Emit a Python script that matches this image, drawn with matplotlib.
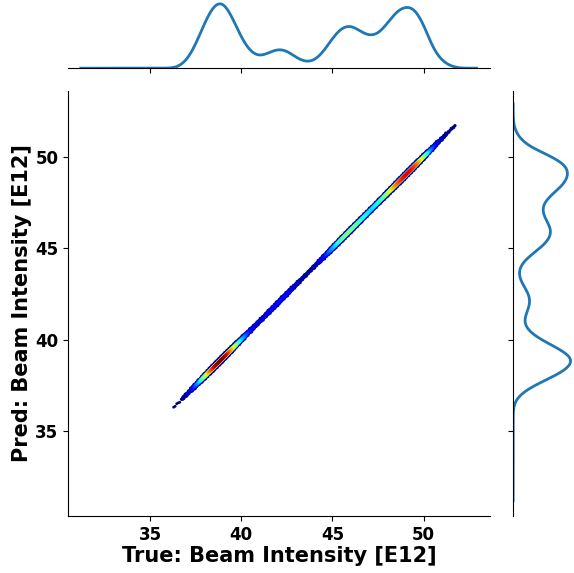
import matplotlib
matplotlib.use("Agg")
import matplotlib.pyplot as plt
import numpy as np
from statistics import NormalDist

# beam intensity histogram (bin centres, counts)
bin_centers = np.arange(36.5, 51.75, 0.5)
bin_counts = [2, 20, 65, 130, 180, 190, 145, 85, 45, 32, 43, 55, 50, 30, 17,
              20, 45, 85, 115, 122, 105, 90, 95, 125, 160, 175, 170, 125, 55, 20, 5]
bin_width = 0.5
pts_per_count = 3
resid_sd = 0.085         # spread of pred around true
x_ticks = [35, 40, 45, 50]
axis_lim = (30.5, 53.65)
kde_range = (31.2, 52.9)

# expand the histogram into points (evenly spaced inside each bin)
nd = NormalDist()
true_vals, resid = [], []
phi = (np.sqrt(5) - 1) / 2
for c, n in zip(bin_centers, bin_counts):
    n = n * pts_per_count
    xs = c - bin_width / 2 + (np.arange(n) + 0.5) / n * bin_width
    q = [(k * phi) % 1 for k in range(1, n + 1)]
    q = [min(max(v, 0.005), 0.995) for v in q]
    true_vals.extend(xs)
    resid.extend([nd.inv_cdf(v) * resid_sd for v in q])
true_vals = np.array(true_vals)
resid = np.array(resid)


def kde(data, grid, bw):
    d = (grid[:, None] - data[None, :]) / bw
    return np.exp(-0.5 * d ** 2).sum(axis=1) / (len(data) * bw * np.sqrt(2 * np.pi))


# narrower band where there are few points (tapered ends)
dens_true = kde(true_vals, true_vals, 0.3)
resid = resid * (dens_true / dens_true.max()) ** 0.25
pred_vals = true_vals + resid

# point density for colouring
dens = dens_true ** 1.6 * np.exp(-0.5 * (resid / (0.55 * resid_sd)) ** 2)
order = np.argsort(dens)

fig = plt.figure(figsize=(5.74, 5.73), dpi=100)
ax = fig.add_axes([0.1185, 0.0995, 0.7355, 0.7415])
ax_top = fig.add_axes([0.1185, 0.881, 0.7355, 0.119], sharex=ax)
ax_right = fig.add_axes([0.894, 0.0995, 0.106, 0.7415], sharey=ax)

ax.scatter(true_vals[order], pred_vals[order], c=dens[order], cmap="jet",
           s=4, edgecolors="none")
ax.set_xlim(*axis_lim)
ax.set_ylim(30.35, 53.6)
ax.set_xticks(x_ticks)
ax.set_yticks(x_ticks)
for lab in ax.get_xticklabels() + ax.get_yticklabels():
    lab.set_fontweight("bold")
    lab.set_fontsize(12)
ax.set_xlabel("True: Beam Intensity [E12]", fontsize=15, fontweight="bold", labelpad=2)
ax.set_ylabel("Pred: Beam Intensity [E12]", fontsize=15, fontweight="bold", labelpad=2)
ax.spines["top"].set_visible(False)
ax.spines["right"].set_visible(False)

grid = np.linspace(*kde_range, 400)
curve_x = kde(true_vals, grid, 0.3)
curve_y = kde(pred_vals, grid, 0.3)

ax_top.plot(grid, curve_x, color="#1f77b4", lw=2)
ax_top.set_ylim(0, curve_x.max() * 1.06)
ax_right.plot(curve_y, grid, color="#1f77b4", lw=2)
ax_right.set_xlim(0, curve_y.max() * 1.06)

for a in (ax_top, ax_right):
    for s in ["top", "right"]:
        a.spines[s].set_visible(False)
ax_top.spines["left"].set_visible(False)
ax_right.spines["bottom"].set_visible(False)
ax_top.tick_params(labelbottom=False, left=False, labelleft=False)
ax_right.tick_params(labelleft=False, bottom=False, labelbottom=False)

fig.savefig("out.png", dpi=100)
